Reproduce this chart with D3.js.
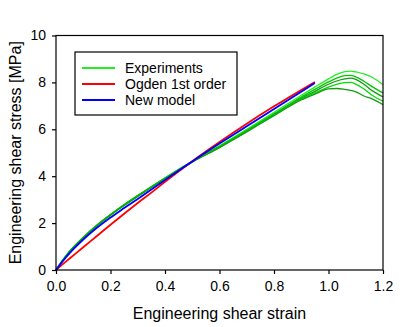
<!DOCTYPE html>
<html>
<head>
<meta charset="utf-8">
<script src="https://cdn.jsdelivr.net/npm/d3@7"></script>
<style>
  body { margin: 0; background: #fff; }
  svg text { font-family: Arial, "Liberation Sans", sans-serif; fill: #000; }
</style>
</head>
<body>
<svg class="root"></svg>
<script>
// strain values shared by model curves
var modelStrain = [0, 0.025, 0.05, 0.1, 0.15, 0.2, 0.25, 0.3, 0.35, 0.4, 0.5, 0.6, 0.7, 0.8, 0.9, 0.95];
var ogdenStress = [0, 0.25, 0.49, 0.97, 1.45, 1.93, 2.4, 2.86, 3.3, 3.76, 4.64, 5.46, 6.24, 6.98, 7.68, 8.02];
var newModelStress = [0, 0.38, 0.72, 1.3, 1.8, 2.24, 2.64, 3.03, 3.43, 3.84, 4.63, 5.39, 6.13, 6.87, 7.6, 7.97];

// experiments (5 specimens)
var expStrain = [0, 0.025, 0.05, 0.1, 0.15, 0.2, 0.25, 0.3, 0.35, 0.4, 0.45, 0.5, 0.6, 0.7, 0.8, 0.9, 0.95, 1.0, 1.03, 1.06, 1.08, 1.1, 1.13, 1.16, 1.2];
var exp1 = [0, 0.43, 0.8, 1.4, 1.92, 2.37, 2.79, 3.18, 3.56, 3.93, 4.29, 4.64, 5.3, 6.0, 6.72, 7.45, 7.8, 8.15, 8.34, 8.46, 8.48, 8.45, 8.36, 8.22, 7.9];
var exp2 = [0, 0.42, 0.79, 1.39, 1.91, 2.36, 2.78, 3.17, 3.55, 3.92, 4.28, 4.63, 5.27, 5.96, 6.66, 7.38, 7.7, 8.02, 8.18, 8.29, 8.3, 8.24, 8.05, 7.82, 7.55];
var exp3 = [0, 0.41, 0.78, 1.38, 1.9, 2.35, 2.77, 3.16, 3.54, 3.91, 4.27, 4.62, 5.25, 5.93, 6.62, 7.32, 7.62, 7.92, 8.06, 8.15, 8.18, 8.13, 7.92, 7.65, 7.38];
var exp4 = [0, 0.42, 0.79, 1.38, 1.9, 2.35, 2.76, 3.15, 3.53, 3.9, 4.26, 4.61, 5.24, 5.91, 6.6, 7.28, 7.55, 7.8, 7.92, 7.99, 8.0, 7.93, 7.72, 7.45, 7.2];
var exp5 = [0, 0.41, 0.78, 1.37, 1.89, 2.34, 2.75, 3.14, 3.52, 3.89, 4.25, 4.6, 5.22, 5.89, 6.58, 7.25, 7.5, 7.72, 7.74, 7.7, 7.66, 7.6, 7.42, 7.3, 7.05];
var expColors = ["#22ee22", "#00c800", "#119911", "#00dd00", "#159a15"];

var xTicks = [0, 0.2, 0.4, 0.6, 0.8, 1.0, 1.2];
var yTicks = [0, 2, 4, 6, 8, 10];
var legendLabels = ["Experiments", "Ogden 1st order", "New model"];
var legendColors = ["#22ee22", "#ff0000", "#0000ff"];

var W = 403, H = 327;
var margin = {top: 35.5, right: 20, bottom: 57, left: 56},
  width = W - margin.left - margin.right,
  height = H - margin.top - margin.bottom;

var svg = d3.select(".root").attr("width", W).attr("height", H);
var chart = svg.append("g")
  .attr("transform", "translate(" + margin.left + "," + margin.top + ")");

var x = d3.scaleLinear().domain([0, 1.2]).range([0, width]);
var y = d3.scaleLinear().domain([0, 10]).range([height, 0]);

var line = d3.line()
  .x(function(d) { return x(d[0]); })
  .y(function(d) { return y(d[1]); })
  .curve(d3.curveMonotoneX);

// experiments
[exp1, exp2, exp3, exp4, exp5].forEach(function(s, i) {
  chart.append("path")
    .datum(expStrain.map(function(e, j) { return [e, s[j]]; }))
    .attr("fill", "none")
    .attr("stroke", expColors[i])
    .attr("stroke-width", 1.3)
    .attr("d", line);
});

chart.append("path")
  .datum(modelStrain.map(function(e, j) { return [e, ogdenStress[j]]; }))
  .attr("fill", "none")
  .attr("stroke", "#ff0000")
  .attr("stroke-width", 1.8)
  .attr("d", line);

chart.append("path")
  .datum(modelStrain.map(function(e, j) { return [e, newModelStress[j]]; }))
  .attr("fill", "none")
  .attr("stroke", "#0000ff")
  .attr("stroke-width", 1.8)
  .attr("d", line);

// frame
chart.append("rect")
  .attr("width", width).attr("height", height)
  .attr("fill", "none").attr("stroke", "#000").attr("stroke-width", 1.2);

var xAxis = chart.append("g")
  .attr("transform", "translate(0," + height + ")")
  .call(d3.axisBottom(x).tickValues(xTicks).tickFormat(d3.format(".1f")).tickSizeOuter(0).tickSize(4).tickPadding(7));
var yAxis = chart.append("g")
  .call(d3.axisLeft(y).tickValues(yTicks).tickFormat(d3.format("d")).tickSizeOuter(0).tickSize(4).tickPadding(6));
[xAxis, yAxis].forEach(function(a) {
  a.select(".domain").remove();
  a.selectAll("line").attr("stroke", "#000").attr("stroke-width", 1.2);
  a.selectAll("text").attr("font-size", 14).attr("font-family", "Arial, 'Liberation Sans', sans-serif").attr("fill", "#000");
});

// axis titles
chart.append("text")
  .attr("x", width / 2).attr("y", height + 49)
  .attr("text-anchor", "middle").attr("font-size", 16)
  .text("Engineering shear strain");
chart.append("text")
  .attr("transform", "translate(" + (-35) + "," + (height / 2) + ") rotate(-90)")
  .attr("text-anchor", "middle").attr("font-size", 16)
  .text("Engineering shear stress [MPa]");

// legend
var legend = chart.append("g").attr("transform", "translate(" + (75 - margin.left) + "," + (52 - margin.top) + ")");
legend.append("rect")
  .attr("width", 162).attr("height", 63)
  .attr("fill", "#fff").attr("stroke", "#000").attr("stroke-width", 1.2);
legendLabels.forEach(function(lab, i) {
  var ly = 16 + i * 16;
  legend.append("line")
    .attr("x1", 7).attr("x2", 40).attr("y1", ly).attr("y2", ly)
    .attr("stroke", legendColors[i]).attr("stroke-width", 1.8);
  legend.append("text")
    .attr("x", 50).attr("y", ly + 5)
    .attr("font-size", 14)
    .text(lab);
});
</script>
</body>
</html>
